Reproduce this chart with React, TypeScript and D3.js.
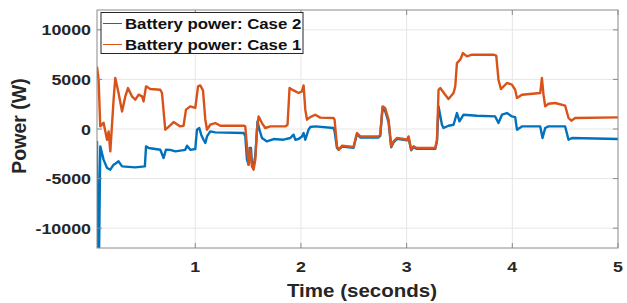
import React, { useRef, useEffect } from 'react';
import * as d3 from 'd3';

// Battery power, Case 1 (orange)
const case1Time = [0.070, 0.085, 0.101, 0.132, 0.165, 0.180, 0.196, 0.227, 0.243, 0.274, 0.307, 0.338, 0.363, 0.401, 0.432, 0.464, 0.496, 0.511, 0.534, 0.574, 0.669, 0.685, 0.716, 0.742, 0.795, 0.858, 0.889, 0.912, 0.953, 1.000, 1.026, 1.047, 1.073, 1.095, 1.111, 1.142, 1.189, 1.237, 1.457, 1.473, 1.489, 1.504, 1.520, 1.536, 1.552, 1.568, 1.584, 1.599, 1.631, 1.662, 1.710, 1.851, 1.873, 1.892, 1.930, 1.977, 2.009, 2.025, 2.041, 2.057, 2.088, 2.135, 2.183, 2.308, 2.318, 2.341, 2.356, 2.388, 2.498, 2.514, 2.530, 2.561, 2.734, 2.750, 2.772, 2.797, 2.829, 2.854, 2.876, 2.908, 2.971, 3.003, 3.018, 3.043, 3.065, 3.097, 3.271, 3.287, 3.302, 3.318, 3.365, 3.396, 3.444, 3.460, 3.476, 3.507, 3.533, 3.570, 3.618, 3.822, 3.848, 3.869, 3.892, 3.949, 3.996, 4.027, 4.044, 4.091, 4.264, 4.280, 4.295, 4.311, 4.342, 4.406, 4.500, 4.532, 4.558, 4.595, 5.000];
const case1Power = [6300, 5000, 260, 630, -1080, -240, -2260, 2950, 5140, 3630, 1770, 3290, 4130, 3290, 2950, 3460, 3290, 2780, 4300, 4030, 3960, 3630, -70, 160, 700, 260, 330, 1950, 2280, 2120, 4300, 4400, 3900, 940, -70, 430, 600, 330, 330, 260, -1750, -3600, -2090, -3770, -4100, -3090, -70, 1270, 600, 100, 260, 260, 430, 4130, 3890, 3630, 3790, 4400, 1950, 940, 1200, 1440, 1150, 1110, 940, -1750, -2090, -1680, -1810, -1080, -400, -750, -750, -600, 2280, 2120, 940, -1750, -1250, -910, -1010, -1080, -750, -2090, -1750, -1920, -1920, -1100, 3960, 4130, 3460, 3020, 3630, 4300, 6650, 6990, 7660, 7320, 7490, 7490, 7400, 4970, 4030, 4640, 4470, 3960, 3120, 3460, 3630, 5140, 3460, 2280, 2550, 2620, 2350, 1110, 840, 1110, 1170];

// Battery power, Case 2 (blue)
const case2Time = [0.070, 0.080, 0.090, 0.101, 0.132, 0.165, 0.196, 0.227, 0.243, 0.274, 0.307, 0.432, 0.523, 0.534, 0.559, 0.669, 0.700, 0.722, 0.763, 0.811, 0.905, 0.922, 0.953, 1.000, 1.016, 1.038, 1.057, 1.078, 1.095, 1.111, 1.142, 1.189, 1.457, 1.473, 1.489, 1.504, 1.514, 1.527, 1.536, 1.552, 1.568, 1.589, 1.608, 1.631, 1.678, 1.741, 1.835, 1.899, 1.930, 1.946, 1.977, 2.009, 2.025, 2.041, 2.072, 2.088, 2.135, 2.308, 2.318, 2.341, 2.356, 2.388, 2.498, 2.514, 2.530, 2.561, 2.734, 2.750, 2.772, 2.797, 2.829, 2.854, 2.876, 2.908, 2.971, 3.003, 3.018, 3.043, 3.065, 3.097, 3.271, 3.287, 3.302, 3.334, 3.349, 3.396, 3.444, 3.476, 3.500, 3.538, 3.665, 3.838, 3.869, 3.902, 3.949, 3.996, 4.027, 4.044, 4.091, 4.264, 4.286, 4.311, 4.342, 4.500, 4.532, 4.564, 5.000];
const case2Power = [-1200, -12000, -12000, -1750, -3090, -3930, -4100, -3600, -3500, -3260, -3770, -3870, -3770, -1750, -1920, -2090, -2920, -2090, -2100, -2260, -2100, -1680, -2100, -2020, -70, 100, -600, -1080, -1410, -750, -240, -340, -400, -700, -3090, -3600, -1920, -1920, -3430, -3770, -2700, 770, -100, -910, -1250, -1010, -1080, -910, -570, -1080, -1010, -750, -400, -1080, -70, 200, 260, 100, -200, -1920, -2090, -1780, -1900, -1180, -500, -850, -850, -700, 2100, 1800, 700, -1850, -1350, -1000, -1100, -1150, -850, -2150, -1850, -2000, -2000, -1200, 2280, 430, 100, 330, 430, 1610, 770, 1440, 1340, 1270, 600, 1440, 1610, 1270, 1200, -70, 260, 260, -910, 100, 260, 260, -1080, -910, -1010];

const xTicks = [1, 2, 3, 4, 5];
const yTicks = [-10000, -5000, 0, 5000, 10000];
const legendLabels = ['Battery power: Case 2', 'Battery power: Case 1'];
const colors = ['#0072BD', '#D95319'];

function App() {
  const canvas = useRef<HTMLDivElement>(null);

  const width = 627;
  const height = 303;
  const left = 97, right = 618, top = 10, bottom = 248;
  const font = '"Liberation Sans", Arial, sans-serif';

  const xScale = d3.scaleLinear().domain([0.07, 5]).range([left, right]);
  const yScale = d3.scaleLinear().domain([-12000, 12000]).range([bottom, top]);

  useEffect(() => {
    document.body.style.margin = '0';
    const root = d3.select(canvas.current);
    root.selectAll('*').remove();

    const svg = root.append('svg')
      .attr('width', width)
      .attr('height', height)
      .style('display', 'block')
      .style('background', '#fff');

    const clipId = 'plot-clip';
    svg.append('clipPath').attr('id', clipId)
      .append('rect')
        .attr('x', left).attr('y', top)
        .attr('width', right - left).attr('height', bottom - top);

    // grid
    const grid = svg.append('g').attr('stroke', '#e6e6e6').attr('stroke-width', 1);
    xTicks.slice(0, -1).forEach(t => {
      grid.append('line')
        .attr('x1', xScale(t)).attr('x2', xScale(t))
        .attr('y1', top).attr('y2', bottom);
    });
    yTicks.forEach(t => {
      grid.append('line')
        .attr('x1', left).attr('x2', right)
        .attr('y1', yScale(t)).attr('y2', yScale(t));
    });

    // series
    const line = d3.line<[number, number]>()
      .x(d => xScale(d[0]))
      .y(d => yScale(d[1]));

    const series = [
      d3.zip(case2Time, case2Power) as [number, number][],
      d3.zip(case1Time, case1Power) as [number, number][],
    ];
    const plot = svg.append('g').attr('clip-path', `url(#${clipId})`);
    series.forEach((s, i) => {
      plot.append('path')
        .attr('d', line(s))
        .attr('fill', 'none')
        .attr('stroke', colors[i])
        .attr('stroke-width', 2.4)
        .attr('stroke-linejoin', 'round');
    });

    // box + inward ticks
    svg.append('rect')
      .attr('x', left).attr('y', top)
      .attr('width', right - left).attr('height', bottom - top)
      .attr('fill', 'none').attr('stroke', '#8a8a8a').attr('stroke-width', 1);

    const ticks = svg.append('g').attr('stroke', '#8a8a8a').attr('stroke-width', 1);
    xTicks.forEach(t => {
      ticks.append('line').attr('x1', xScale(t)).attr('x2', xScale(t)).attr('y1', bottom).attr('y2', bottom - 5);
      ticks.append('line').attr('x1', xScale(t)).attr('x2', xScale(t)).attr('y1', top).attr('y2', top + 5);
    });
    yTicks.forEach(t => {
      ticks.append('line').attr('x1', left).attr('x2', left + 5).attr('y1', yScale(t)).attr('y2', yScale(t));
      ticks.append('line').attr('x1', right).attr('x2', right - 5).attr('y1', yScale(t)).attr('y2', yScale(t));
    });

    // tick labels
    xTicks.forEach(t => {
      svg.append('g')
        .attr('transform', `translate(${xScale(t)}, 272) scale(1.15, 1)`)
        .append('text')
          .attr('text-anchor', 'middle')
          .attr('font-family', font).attr('font-weight', 'bold').attr('font-size', 15.5)
          .attr('fill', '#262626')
          .text(t);
    });
    yTicks.forEach(t => {
      svg.append('g')
        .attr('transform', `translate(91, ${yScale(t) + 5.5}) scale(1.15, 1)`)
        .append('text')
          .attr('text-anchor', 'end')
          .attr('font-family', font).attr('font-weight', 'bold').attr('font-size', 15.5)
          .attr('fill', '#262626')
          .text(t);
    });

    // axis titles
    svg.append('g')
      .attr('transform', `translate(362, 296.5) scale(1.14, 1)`)
      .append('text')
        .attr('text-anchor', 'middle')
        .attr('font-family', font).attr('font-weight', 'bold').attr('font-size', 18)
        .attr('fill', '#262626')
        .text('Time (seconds)');

    svg.append('text')
      .attr('transform', 'translate(26, 126) rotate(-90)')
      .attr('text-anchor', 'middle')
      .attr('font-family', font).attr('font-weight', 'bold').attr('font-size', 19.5)
      .attr('fill', '#262626')
      .text('Power (W)');

    // legend
    const legend = svg.append('g');
    legend.append('rect')
      .attr('x', 101).attr('y', 12.5)
      .attr('width', 202).attr('height', 41)
      .attr('fill', '#fff').attr('stroke', '#262626').attr('stroke-width', 1);
    legendLabels.forEach((label, i) => {
      const cy = 23.5 + i * 21;
      legend.append('line')
        .attr('x1', 103).attr('x2', 122)
        .attr('y1', cy).attr('y2', cy)
        .attr('stroke', colors[i]).attr('stroke-width', 1);
      legend.append('g')
        .attr('transform', `translate(125, ${cy + 5.5}) scale(1.12, 1)`)
        .append('text')
          .attr('font-family', font).attr('font-weight', 'bold').attr('font-size', 15)
          .attr('fill', '#111')
          .text(label);
    });
  });

  return <div className="d3-canvas" ref={canvas}></div>;
}

export default App;
